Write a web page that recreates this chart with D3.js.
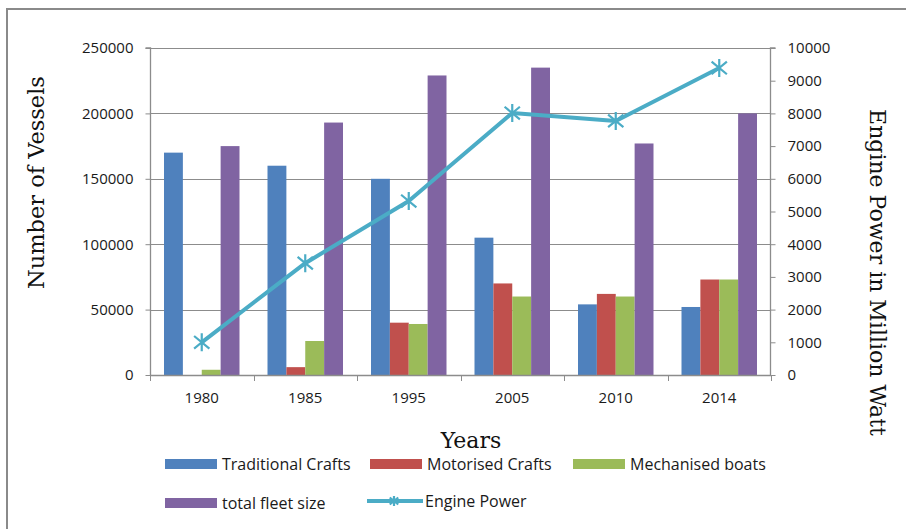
<!DOCTYPE html>
<html>
<head>
<meta charset="utf-8">
<script src="https://cdn.jsdelivr.net/npm/d3@7"></script>
<style>
  html, body { margin: 0; padding: 0; background: #fff; }
  svg { display: block; }
  .tick text { font-family: "Open Sans", sans-serif; font-size: 15px; fill: #1a1a1a; }
</style>
</head>
<body>
<script>
// ---- data ----
const years = ["1980", "1985", "1995", "2005", "2010", "2014"];
const traditionalCrafts = [170000, 160000, 150000, 105000, 54000, 52000];
const motorisedCrafts   = [0, 6000, 40000, 70000, 62000, 73000];
const mechanisedBoats   = [4000, 26000, 39000, 60000, 60000, 73000];
const totalFleetSize    = [175000, 193000, 229000, 235000, 177000, 200000];
const enginePower       = [1000, 3420, 5320, 8010, 7770, 9390];
const leftTicks  = [0, 50000, 100000, 150000, 200000, 250000];
const rightTicks = [0, 1000, 2000, 3000, 4000, 5000, 6000, 7000, 8000, 9000, 10000];
const seriesNames = ["Traditional Crafts", "Motorised Crafts", "Mechanised boats", "total fleet size"];
const seriesValues = [traditionalCrafts, motorisedCrafts, mechanisedBoats, totalFleetSize];
const lineName = "Engine Power";

// ---- styles ----
const colors = ["#4f81bd", "#c0504d", "#9bbb59", "#8064a2"];
const lineColor = "#4bacc6";
const gridColor = "#8c8c8c";

const W = 906, H = 529;
const plot = { left: 150, right: 771, top: 48, bottom: 375 };

const svg = d3.select("body").append("svg").attr("width", W).attr("height", H);

// outer frame
svg.append("rect").attr("x", 7).attr("y", 9).attr("width", 1200).attr("height", 1200)
  .attr("fill", "none").attr("stroke", "#8a8a8a").attr("stroke-width", 2);

const x0 = d3.scaleBand().domain(years).range([plot.left, plot.right]).padding(0);
const x1 = d3.scaleBand().domain(seriesNames).range([14, x0.bandwidth() - 14]).padding(0);
const yL = d3.scaleLinear().domain([0, 250000]).range([plot.bottom, plot.top]);
const yR = d3.scaleLinear().domain([0, 10000]).range([plot.bottom, plot.top]);

// gridlines
svg.append("g").selectAll("line").data(leftTicks.filter(d => d > 0)).join("line")
  .attr("x1", plot.left).attr("x2", plot.right)
  .attr("y1", d => Math.round(yL(d)) + 0.5).attr("y2", d => Math.round(yL(d)) + 0.5)
  .attr("stroke", gridColor).attr("stroke-width", 1);

// bars
const groups = svg.append("g").selectAll("g").data(years).join("g")
  .attr("transform", d => `translate(${x0(d)},0)`);
groups.selectAll("rect")
  .data((d, i) => seriesNames.map((s, k) => ({ s, k, v: seriesValues[k][i] })))
  .join("rect")
  .attr("x", d => x1(d.s))
  .attr("width", x1.bandwidth())
  .attr("y", d => yL(d.v))
  .attr("height", d => yL(0) - yL(d.v))
  .attr("fill", d => colors[d.k]);

// left axis
const axL = svg.append("g").attr("transform", `translate(${plot.left + 0.5},0)`)
  .call(d3.axisLeft(yL).tickValues(leftTicks).tickFormat(d3.format("d")).tickSize(5).tickPadding(12));
// right axis
const axR = svg.append("g").attr("transform", `translate(${plot.right - 0.5},0)`)
  .call(d3.axisRight(yR).tickValues(rightTicks).tickFormat(d3.format("d")).tickSize(5).tickPadding(12));
// bottom axis
const axB = svg.append("g").attr("transform", `translate(0,${plot.bottom + 0.5})`)
  .call(d3.axisBottom(x0).tickSize(0).tickPadding(17));
// bottom category boundary ticks
svg.append("g").selectAll("line").data(years.concat(["end"])).join("line")
  .attr("x1", (d, i) => Math.round(plot.left + i * x0.bandwidth()) + 0.5)
  .attr("x2", (d, i) => Math.round(plot.left + i * x0.bandwidth()) + 0.5)
  .attr("y1", plot.bottom).attr("y2", plot.bottom + 6)
  .attr("stroke", gridColor);

[axL, axR, axB].forEach(a => {
  a.select(".domain").attr("stroke", gridColor).attr("stroke-width", 1.3);
  a.selectAll(".tick line").attr("stroke", gridColor);
});
axL.select(".domain").attr("d", `M-5,${plot.top}H0V${plot.bottom}`);
axR.select(".domain").attr("d", `M5,${plot.top}H0V${plot.bottom}`);
axB.select(".domain").attr("d", `M${plot.left},0H${plot.right}`);

// engine power line
const cx = d => x0(d) + x0.bandwidth() / 2;
const line = d3.line().x((d, i) => cx(years[i])).y(d => yR(d));
svg.append("path").datum(enginePower).attr("d", line)
  .attr("fill", "none").attr("stroke", lineColor).attr("stroke-width", 4)
  .attr("stroke-linejoin", "round");

function star(g, x, y, r) {
  const p = `M${x},${y - r}V${y + r}M${x - r * 0.85},${y - r * 0.7}L${x + r * 0.85},${y + r * 0.7}M${x - r * 0.85},${y + r * 0.7}L${x + r * 0.85},${y - r * 0.7}`;
  g.append("path").attr("d", p).attr("stroke", lineColor).attr("stroke-width", 2.2).attr("fill", "none");
}
const mk = svg.append("g");
enginePower.forEach((v, i) => star(mk, cx(years[i]), yR(v), 9));

// axis titles
const serif = "DejaVu Serif, serif";
svg.append("text").attr("transform", `translate(44,${(75 + 290) / 2}) rotate(-90)`)
  .attr("text-anchor", "middle").attr("font-family", serif).attr("font-size", 22.5).attr("fill", "#111")
  .text("Number of Vessels");
svg.append("text").attr("transform", `translate(870,${(105 + 440) / 2}) rotate(90)`)
  .attr("text-anchor", "middle").attr("font-family", serif).attr("font-size", 22).attr("fill", "#111")
  .text("Engine Power in Million Watt");
svg.append("text").attr("x", 471).attr("y", 448)
  .attr("text-anchor", "middle").attr("font-family", serif).attr("font-size", 22).attr("fill", "#111")
  .text("Years");

// legend
const legendItems = [
  { name: seriesNames[0], type: "bar", color: colors[0], x: 165, y: 464 },
  { name: seriesNames[1], type: "bar", color: colors[1], x: 370, y: 464 },
  { name: seriesNames[2], type: "bar", color: colors[2], x: 573, y: 464 },
  { name: seriesNames[3], type: "bar", color: colors[3], x: 165, y: 503 },
  { name: lineName, type: "line", color: lineColor, x: 367, y: 501 }
];
const lg = svg.append("g");
legendItems.forEach(it => {
  if (it.type === "bar") {
    lg.append("rect").attr("x", it.x).attr("y", it.y - 5).attr("width", 52).attr("height", 10).attr("fill", it.color);
    lg.append("text").attr("x", it.x + 57).attr("y", it.y).attr("dy", "0.35em")
      .attr("font-family", "Open Sans, sans-serif").attr("font-size", 16).attr("fill", "#1a1a1a").text(it.name);
  } else {
    lg.append("line").attr("x1", it.x).attr("x2", it.x + 56).attr("y1", it.y).attr("y2", it.y)
      .attr("stroke", it.color).attr("stroke-width", 4);
    star(lg, it.x + 27, it.y, 5);
    lg.append("text").attr("x", it.x + 58).attr("y", it.y).attr("dy", "0.35em")
      .attr("font-family", "Open Sans, sans-serif").attr("font-size", 16).attr("fill", "#1a1a1a").text(it.name);
  }
});
</script>
</body>
</html>
